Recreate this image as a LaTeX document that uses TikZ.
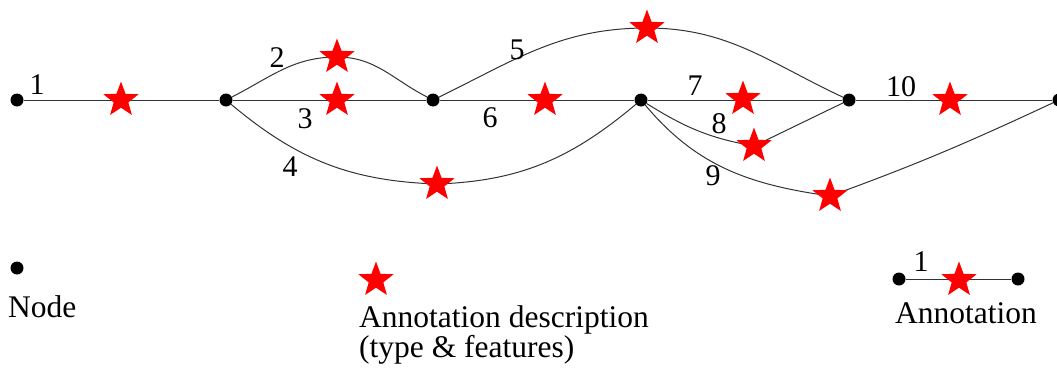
\documentclass[tikz,border=0pt]{standalone}
\usepackage{fontspec}
\setmainfont{Liberation Serif}
\usetikzlibrary{shapes.geometric}
\begin{document}
\begin{tikzpicture}[x=1pt,y=1pt,
  vertex/.style={circle,fill=black,inner sep=0pt,minimum size=13pt},
  annot/.style={star,star points=5,star point ratio=2.4,fill=red,draw=none,inner sep=0pt,minimum size=37pt},
  edge/.style={line width=1pt,draw=black!80},
  lbl/.style={inner sep=0pt,font=\fontsize{30}{30}\selectfont},
  legtext/.style={inner sep=0pt,anchor=base west,font=\fontsize{31.5}{30}\selectfont}]
\useasboundingbox (0,0) rectangle (1057,-367);
% graph nodes
\node[vertex] (n1) at (17,-100) {};
\node[vertex] (n2) at (226,-100) {};
\node[vertex] (n3) at (433,-100) {};
\node[vertex] (n4) at (641,-100) {};
\node[vertex] (n5) at (849,-100) {};
\node[vertex] (n6) at (1059,-100) {};
% annotation positions
\coordinate (s1) at (121,-100);
\coordinate (s2) at (337,-57);
\coordinate (s3) at (337,-100);
\coordinate (s4) at (437,-184);
\coordinate (s5) at (647,-28);
\coordinate (s6) at (545,-100);
\coordinate (s7) at (743,-99);
\coordinate (s8) at (754,-146);
\coordinate (s9) at (830,-196);
\coordinate (s10) at (950,-100);
% edges
\draw[edge] (n1) -- (n2);
\draw[edge] (n2) to[out=27,in=180] (s2) to[out=0,in=153] (n3);
\draw[edge] (n2) -- (n3);
\draw[edge] (n2) to[out=-40,in=178] (s4) to[out=2,in=-140] (n4);
\draw[edge] (n3) to[out=26,in=180] (s5) to[out=0,in=155] (n5);
\draw[edge] (n3) -- (n4);
\draw[edge] (n4) -- (n5);
\draw[edge] (n4) to[out=-32,in=170] (s8) -- (n5);
\draw[edge] (n4) to[out=-50,in=172] (s9) to[out=20,in=-155] (n6);
\draw[edge] (n5) -- (n6);
% annotation stars
\foreach \i in {1,...,10} {\node[annot] (a\i) at (s\i) {};}
% edge labels
\node[lbl] (l1) at (37,-85) {1};
\node[lbl] (l2) at (277,-58) {2};
\node[lbl] (l3) at (305,-119) {3};
\node[lbl] (l4) at (290,-167) {4};
\node[lbl] (l5) at (517,-50) {5};
\node[lbl] (l6) at (490,-118) {6};
\node[lbl] (l7) at (695,-86) {7};
\node[lbl] (l8) at (719,-124) {8};
\node[lbl] (l9) at (713,-176) {9};
\node[lbl] (l10) at (901,-87) {10};
% legend
\node[vertex] (ln) at (17,-268) {};
\node[legtext] (tn) at (8,-317) {Node};
\node[annot] (ls) at (376,-280) {};
\node[legtext] (td) at (359,-327) {Annotation description};
\node[legtext] (tf) at (359,-357) {(type \& features)};
\node[vertex] (la) at (899,-279) {};
\node[vertex] (lb) at (1018,-279) {};
\draw[edge] (la) -- (lb);
\node[annot] (lst) at (959,-280) {};
\node[lbl] (lone) at (921,-262) {1};
\node[legtext] (ta) at (895,-323) {Annotation};
\end{tikzpicture}
\end{document}
